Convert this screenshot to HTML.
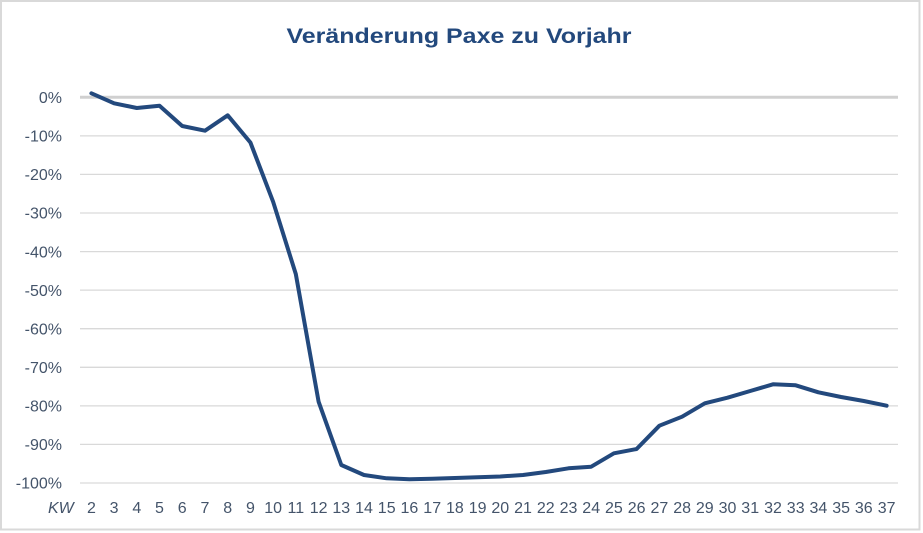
<!DOCTYPE html>
<html><head><meta charset="utf-8"><style>
html,body{margin:0;padding:0;background:#fff;}
svg{display:block;}
text{font-family:"Liberation Sans",sans-serif;}
</style></head><body>
<svg width="923" height="533" viewBox="0 0 923 533" xmlns="http://www.w3.org/2000/svg">
<rect x="0" y="0" width="923" height="533" fill="#fff"/>
<rect x="1" y="1" width="918.5" height="528.5" fill="none" stroke="#d9d9d9" stroke-width="2"/>
<text x="459" y="43" text-anchor="middle" font-size="21" font-weight="bold" fill="#23497d" textLength="345" lengthAdjust="spacingAndGlyphs">Veränderung Paxe zu Vorjahr</text>
<g stroke="#d9d9d9" stroke-width="1.3">
<line x1="80" x2="898" y1="135.9" y2="135.9"/>
<line x1="80" x2="898" y1="174.4" y2="174.4"/>
<line x1="80" x2="898" y1="213" y2="213"/>
<line x1="80" x2="898" y1="251.6" y2="251.6"/>
<line x1="80" x2="898" y1="290.1" y2="290.1"/>
<line x1="80" x2="898" y1="328.7" y2="328.7"/>
<line x1="80" x2="898" y1="367.3" y2="367.3"/>
<line x1="80" x2="898" y1="405.9" y2="405.9"/>
<line x1="80" x2="898" y1="444.4" y2="444.4"/>
<line x1="80" x2="898" y1="483" y2="483"/>
</g>
<line x1="80" x2="898" y1="97.3" y2="97.3" stroke="#d0d0d0" stroke-width="3"/>
<g font-size="16" fill="#44546a" text-anchor="end">
<text x="62" y="103">0%</text>
<text x="62" y="141.6">-10%</text>
<text x="62" y="180.1">-20%</text>
<text x="62" y="218.7">-30%</text>
<text x="62" y="257.3">-40%</text>
<text x="62" y="295.8">-50%</text>
<text x="62" y="334.4">-60%</text>
<text x="62" y="373">-70%</text>
<text x="62" y="411.6">-80%</text>
<text x="62" y="450.1">-90%</text>
<text x="62" y="488.7">-100%</text>
</g>
<text x="48" y="513" font-size="16" font-style="italic" fill="#44546a">KW</text>
<g font-size="16" fill="#44546a" text-anchor="middle">
<text x="91.4" y="513">2</text>
<text x="114.1" y="513">3</text>
<text x="136.8" y="513">4</text>
<text x="159.5" y="513">5</text>
<text x="182.2" y="513">6</text>
<text x="205.0" y="513">7</text>
<text x="227.7" y="513">8</text>
<text x="250.4" y="513">9</text>
<text x="273.1" y="513">10</text>
<text x="295.8" y="513">11</text>
<text x="318.6" y="513">12</text>
<text x="341.3" y="513">13</text>
<text x="364.0" y="513">14</text>
<text x="386.7" y="513">15</text>
<text x="409.4" y="513">16</text>
<text x="432.2" y="513">17</text>
<text x="454.9" y="513">18</text>
<text x="477.6" y="513">19</text>
<text x="500.3" y="513">20</text>
<text x="523.0" y="513">21</text>
<text x="545.8" y="513">22</text>
<text x="568.5" y="513">23</text>
<text x="591.2" y="513">24</text>
<text x="613.9" y="513">25</text>
<text x="636.6" y="513">26</text>
<text x="659.4" y="513">27</text>
<text x="682.1" y="513">28</text>
<text x="704.8" y="513">29</text>
<text x="727.5" y="513">30</text>
<text x="750.2" y="513">31</text>
<text x="773.0" y="513">32</text>
<text x="795.7" y="513">33</text>
<text x="818.4" y="513">34</text>
<text x="841.1" y="513">35</text>
<text x="863.8" y="513">36</text>
<text x="886.6" y="513">37</text>
</g>
<polyline fill="none" stroke="#23497d" stroke-width="4" stroke-linejoin="round" stroke-linecap="round"
points="91.4,93.3 114.1,103.3 136.8,108 159.5,105.7 182.2,126 205.0,130.7 227.7,115.3 250.4,142.5 273.1,201.7 295.8,274 318.6,401.7 341.3,465 364.0,475 386.7,478.3 409.4,479.3 432.2,478.8 454.9,478 477.6,477.3 500.3,476.5 523.0,475 545.8,472 568.5,468.3 591.2,466.7 613.9,453.3 636.6,449 659.4,425.7 682.1,416.7 704.8,403.3 727.5,397.7 750.2,391 773.0,384.3 795.7,385.3 818.4,392.3 841.1,397 863.8,401 886.6,405.7"/>
</svg>
</body></html>
